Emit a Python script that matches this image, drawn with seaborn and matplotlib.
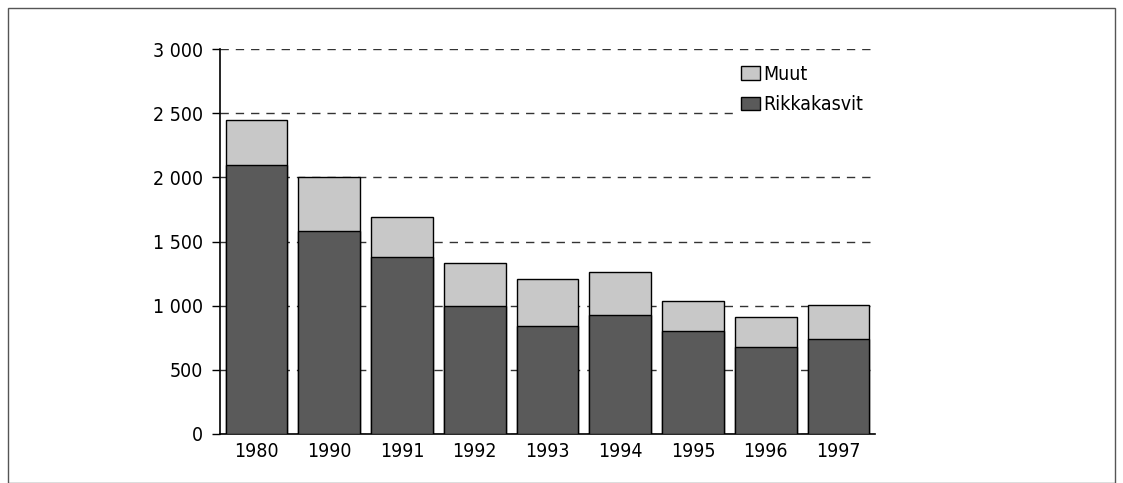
import matplotlib
matplotlib.use("Agg")
import matplotlib.pyplot as plt
from matplotlib.patches import Rectangle, Patch
from matplotlib.ticker import FuncFormatter
import seaborn as sns
import pandas as pd

years = ["1980", "1990", "1991", "1992", "1993", "1994", "1995", "1996", "1997"]
rikkakasvit = [2100, 1580, 1380, 1000, 840, 925, 800, 680, 740]
muut = [350, 420, 310, 335, 365, 340, 240, 235, 265]

LIGHT = "#c8c8c8"
DARK = "#5a5a5a"

sns.set_style("white")
plt.rcParams["font.family"] = ["DejaVu Sans"]
plt.rcParams["font.stretch"] = "condensed"
plt.rcParams["text.color"] = "black"
plt.rcParams["xtick.color"] = "black"
plt.rcParams["ytick.color"] = "black"

df = pd.DataFrame({"year": years, "rikka": rikkakasvit, "muut": muut})
df["total"] = df["rikka"] + df["muut"]

fig = plt.figure(figsize=(11.23, 4.83), dpi=100)
ax = fig.add_axes([0.196, 0.1015, 0.583, 0.797])

sns.barplot(data=df, x="year", y="total", color=LIGHT, edgecolor="black",
            linewidth=1, width=0.85, saturation=1, ax=ax, zorder=3)
sns.barplot(data=df, x="year", y="rikka", color=DARK, edgecolor="black",
            linewidth=1, width=0.85, saturation=1, ax=ax, zorder=3)

ax.set_ylim(0, 3000)
ax.set_xlim(-0.5, 8.5)
ax.set_yticks(range(0, 3001, 500))
ax.yaxis.set_major_formatter(FuncFormatter(lambda v, p: f"{int(v):,}".replace(",", " ")))
ax.grid(axis="y", linestyle=(0, (6, 5)), color="#333333", linewidth=1, zorder=0)
ax.set_xlabel("")
ax.set_ylabel("")
for s in ["top", "right"]:
    ax.spines[s].set_visible(False)
for s in ["left", "bottom"]:
    ax.spines[s].set_color("black")
    ax.spines[s].set_linewidth(1.2)
ax.tick_params(axis="y", length=6, width=1, direction="out", left=True, labelsize=14, pad=6)
ax.tick_params(axis="x", length=0, labelsize=14, pad=6)

handles = [Patch(facecolor=LIGHT, edgecolor="black", label="Muut"),
           Patch(facecolor=DARK, edgecolor="black", label="Rikkakasvit")]
ax.legend(handles=handles, loc="upper right", bbox_to_anchor=(1.0, 0.99), frameon=True,
          facecolor="white", edgecolor="white", framealpha=1, fontsize=14,
          handlelength=1.0, handleheight=0.7, handletextpad=0.15, labelspacing=0.6,
          borderaxespad=0.2)

fig.patches.append(Rectangle((0.007, 0.0), 0.986, 0.983, transform=fig.transFigure,
                             fill=False, edgecolor="#555555", linewidth=1))

fig.savefig("out.png", dpi=100)
